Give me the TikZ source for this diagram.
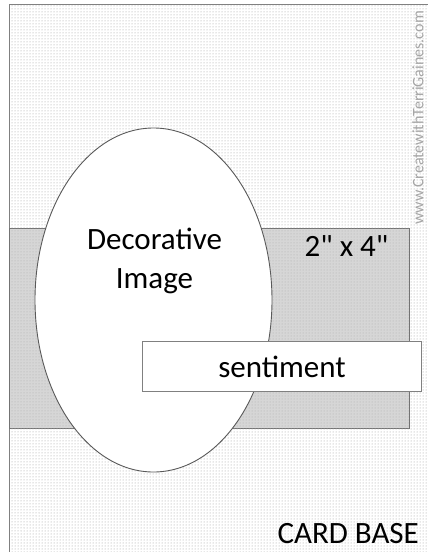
\documentclass[tikz,border=0pt]{standalone}
\usepackage{fontspec}
\setmainfont{Carlito}
\usetikzlibrary{patterns, shapes.geometric, positioning}
\definecolor{edgegray}{HTML}{808080}
\definecolor{bandgray}{HTML}{D6D6D6}
\tikzset{
  cardbase/.style={
    rectangle,
    draw=edgegray,
    line width=1pt,
    fill=white,
    postaction={pattern=dots, pattern color=black!40},
    inner sep=0pt,
  },
  band/.style={
    rectangle,
    draw=black!55,
    line width=1pt,
    fill=bandgray,
    postaction={pattern=dots, pattern color=black!32},
    inner sep=0pt,
  },
  oval/.style={
    ellipse,
    draw=black!65,
    line width=0.9pt,
    fill=white,
    inner sep=0pt,
  },
  sentbox/.style={
    rectangle,
    draw=edgegray,
    line width=1pt,
    fill=white,
    inner sep=0pt,
    font=\fontsize{31}{38}\selectfont,
  },
  lbl/.style={
    font=\fontsize{31}{39}\selectfont,
    inner sep=0pt,
  },
  watermark/.style={
    font=\fontsize{16}{18}\selectfont,
    text=black!35,
    inner sep=0pt,
  }
}

\begin{document}
\begin{tikzpicture}[x=1pt, y=-1pt]
\useasboundingbox (0,0) rectangle (428,552);

% --- Card base ---
\node[cardbase, minimum width=430pt, minimum height=560pt, anchor=north west] (card) at (9,4) {};

% --- Bande 2" x 4" ---
\node[band, minimum width=400pt, minimum height=200pt, anchor=north west] (band) at (9,228) {};

% --- Ovale ---
\node[oval, minimum width=237pt, minimum height=344pt] (oval) at (153.5,300) {};

% --- Sentiment ---
\node[sentbox, minimum width=279pt, minimum height=50pt, anchor=north west] (sent) at (142,341) {sentiment};

% --- Labels ---
\node[lbl, align=center] (deco) at (154.5,261) {Decorative\\Image};
\node[lbl, anchor=base] (size) at (346.5,256) {2\textquotedbl{} x 4\textquotedbl};
\node[lbl, anchor=base east] (cardlbl) at (419,543) {CARD BASE};

% --- Filigrane ---
\node[watermark, rotate=90] (www) at (418,118) {www.CreatewithTerriGaines.com};

\end{tikzpicture}
\end{document}
